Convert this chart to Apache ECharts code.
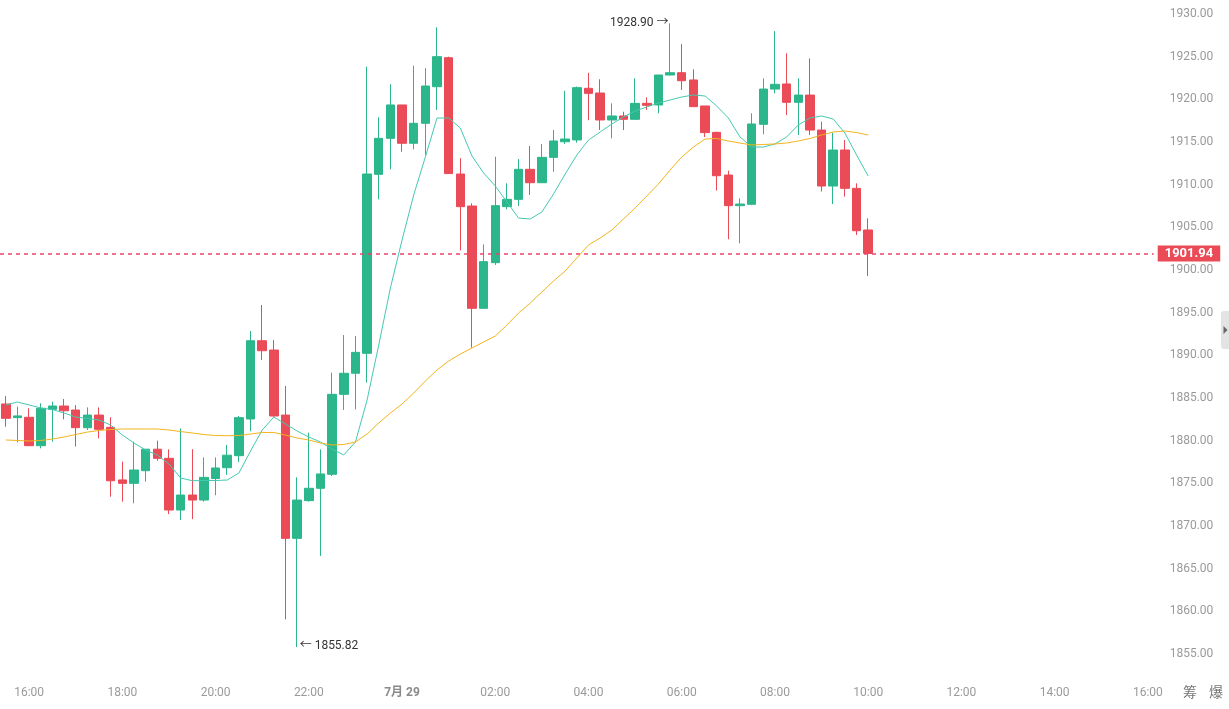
<!DOCTYPE html>
<html>
<head>
<meta charset="utf-8">
<script src="https://cdn.jsdelivr.net/npm/echarts@6/dist/echarts.min.js"></script>
<style>
html,body{margin:0;padding:0;background:#fff;}
#chart{width:1229px;height:709px;}
</style>
</head>
<body>
<div id="chart"></div>
<script>
// ---- data (15-minute candles, 15:30 -> 10:00) ----
const opens = [1884.30,1882.70,1882.74,1879.41,1883.67,1884.06,1883.59,1881.52,1883.00,1881.56,
1875.40,1875.00,1876.48,1879.00,1877.93,1871.87,1873.63,1873.04,1875.57,1876.83,
1878.24,1882.54,1891.71,1890.62,1883.00,1868.55,1872.97,1874.42,1876.06,1885.43,
1887.90,1890.24,1911.21,1915.43,1919.34,1914.85,1917.19,1921.48,1924.88,1911.25,
1907.50,1895.51,1900.86,1907.42,1908.28,1911.80,1910.23,1913.20,1915.03,1915.24,
1921.29,1920.74,1917.58,1918.05,1917.66,1919.53,1919.34,1922.85,1923.12,1922.27,
1919.22,1916.13,1911.13,1907.54,1907.70,1917.07,1921.20,1921.80,1919.65,1920.50,
1916.40,1909.84,1914.06,1909.57,1904.69];
const closes = [1882.62,1882.90,1879.41,1883.79,1884.06,1883.50,1881.52,1883.00,1881.33,1875.30,
1875.00,1876.56,1879.00,1877.93,1871.87,1873.63,1873.04,1875.70,1876.80,1878.30,
1882.70,1891.71,1890.54,1882.89,1868.55,1873.04,1874.42,1876.10,1885.43,1887.90,
1890.35,1911.25,1915.43,1919.34,1914.85,1917.19,1921.56,1925.00,1911.30,1907.42,
1895.51,1900.98,1907.54,1908.28,1911.80,1910.23,1913.20,1915.12,1915.35,1921.37,
1920.70,1917.58,1918.05,1917.66,1919.53,1919.30,1922.85,1923.12,1922.18,1919.14,
1916.10,1911.05,1907.54,1907.73,1917.11,1921.20,1921.76,1919.65,1920.50,1916.40,
1909.84,1914.06,1909.57,1904.60,1901.94];
const lows = [1881.63,1879.80,1879.40,1879.10,1879.88,1882.50,1879.30,1881.25,1880.27,1873.43,
1872.85,1872.66,1875.20,1877.65,1871.40,1870.70,1870.80,1872.85,1873.60,1876.00,
1877.50,1881.10,1889.45,1882.80,1859.06,1855.82,1872.85,1866.50,1875.86,1883.60,
1883.67,1886.80,1908.28,1911.80,1913.86,1914.14,1913.48,1918.75,1911.25,1902.30,
1890.90,1895.50,1900.59,1907.11,1907.50,1908.79,1910.23,1911.52,1914.77,1914.92,
1917.55,1916.40,1915.43,1916.40,1917.66,1918.75,1918.36,1922.82,1921.10,1919.14,
1915.58,1909.30,1903.60,1903.13,1907.60,1915.90,1920.70,1918.16,1915.82,1915.82,
1909.20,1907.73,1908.60,1904.10,1899.30];
const highs = [1885.23,1883.98,1883.79,1884.38,1884.57,1884.88,1884.18,1883.90,1883.90,1882.74,
1877.54,1879.88,1879.00,1880.00,1878.98,1881.43,1879.00,1878.04,1878.04,1879.50,
1882.90,1892.85,1895.90,1891.80,1886.40,1875.70,1880.94,1878.98,1887.97,1892.38,
1892.26,1923.82,1917.90,1921.76,1919.34,1923.94,1923.64,1928.44,1925.00,1913.10,
1907.82,1903.00,1913.28,1910.16,1913.00,1914.53,1914.77,1916.40,1921.00,1921.50,
1923.10,1922.35,1919.53,1918.55,1922.46,1920.24,1922.85,1928.90,1926.48,1923.52,
1919.22,1916.20,1911.64,1908.40,1918.36,1922.46,1928.00,1925.40,1922.46,1924.80,
1917.38,1916.10,1915.23,1910.16,1906.06];
// short moving-average line (teal)
const maFast = [1884.18,1884.53,1884.18,1883.83,1883.65,1883.24,1882.77,1882.60,1882.42,1881.83,
1880.66,1879.72,1878.90,1878.32,1877.26,1875.62,1875.31,1875.33,1875.33,1875.39,
1876.21,1878.79,1881.25,1882.77,1881.95,1881.13,1880.43,1879.84,1879.02,1878.32,
1879.84,1884.76,1891.21,1897.89,1903.51,1908.79,1913.24,1917.81,1917.81,1916.64,
1913.36,1911.37,1909.84,1907.97,1906.09,1905.98,1906.80,1908.91,1911.25,1913.48,
1915.23,1916.17,1917.11,1917.93,1918.63,1919.10,1919.57,1919.92,1920.27,1920.51,
1920.39,1919.22,1917.81,1915.59,1914.41,1914.41,1914.77,1915.59,1916.99,1917.81,
1918.05,1917.69,1916.05,1913.48,1911.01];
// long moving-average line (orange)
const maSlow = [1880.08,1880.02,1879.96,1880.02,1880.19,1880.43,1880.72,1881.01,1881.19,1881.31,
1881.37,1881.37,1881.37,1881.37,1881.25,1881.07,1880.90,1880.72,1880.60,1880.58,
1880.60,1880.78,1880.96,1880.96,1880.66,1880.31,1880.08,1879.72,1879.49,1879.55,
1879.84,1880.78,1882.07,1883.24,1884.30,1885.58,1886.99,1888.28,1889.33,1890.15,
1890.86,1891.56,1892.26,1893.55,1894.96,1896.13,1897.42,1898.71,1899.88,1901.41,
1902.93,1903.75,1904.69,1905.98,1907.26,1908.67,1910.08,1911.72,1913.24,1914.41,
1915.35,1915.41,1915.12,1914.88,1914.65,1914.71,1914.77,1914.88,1915.12,1915.41,
1915.82,1916.17,1916.29,1916.11,1915.82];
const xTickLabels = ['16:00','18:00','20:00','22:00','00:00','02:00','04:00','06:00','08:00','10:00','12:00','14:00'];
const yTicks = {min: 1855, max: 1930, step: 5};

// category slots every 15 minutes from 15:30 to 16:00 next day
const pad = n => (n < 10 ? '0' : '') + n;
const categories = [];
for (let m = 15 * 60 + 30; categories.length < 99; m += 15) {
  categories.push(pad(Math.floor(m / 60) % 24) + ':' + pad(m % 60));
}
const tickSet = new Set(xTickLabels.concat(['16:00']));

const UP = '#2bb68b', DOWN = '#eb4a57', PRICE_LINE = '#e8466c';
const kData = opens.map((o, i) => [o, closes[i], lows[i], highs[i]]);
let iMax = 0, iMin = 0;
highs.forEach((h, i) => { if (h > highs[iMax]) iMax = i; });
lows.forEach((l, i) => { if (l < lows[iMin]) iMin = i; });
const lastPrice = closes[closes.length - 1];

const chart = echarts.init(document.getElementById('chart'), null, {renderer: 'canvas'});
chart.setOption({
  animation: false,
  backgroundColor: '#ffffff',
  textStyle: {fontFamily: 'Roboto, "Noto Sans CJK SC", sans-serif'},
  grid: {left: -1.3, right: 75.3, top: 14, bottom: 55},
  xAxis: {
    type: 'category',
    data: categories,
    boundaryGap: true,
    axisLine: {show: false},
    axisTick: {show: false},
    splitLine: {show: false},
    axisLabel: {
      margin: 33,
      color: '#9a9a9a',
      fontSize: 12,
      interval: (idx, val) => tickSet.has(val),
      formatter: v => v === '00:00' ? '{d|7月 29}' : v,
      rich: {d: {fontWeight: 'bold', color: '#8a8a8a', fontSize: 12}}
    }
  },
  yAxis: {
    type: 'value',
    position: 'right',
    min: yTicks.min,
    max: yTicks.max,
    interval: yTicks.step,
    scale: true,
    axisLine: {show: false},
    axisTick: {show: false},
    splitLine: {show: false},
    axisLabel: {
      margin: 16,
      color: '#9a9a9a',
      fontSize: 12,
      formatter: v => v.toFixed(2)
    }
  },
  series: [
    {
      type: 'candlestick',
      data: kData,
      barWidth: 9,
      itemStyle: {color: UP, color0: DOWN, borderColor: UP, borderColor0: DOWN, borderColorDoji: UP, borderWidth: 1},
      markPoint: {
        symbol: 'circle',
        symbolSize: 1,
        itemStyle: {color: 'rgba(0,0,0,0)'},
        data: [
          {coord: [iMax, highs[iMax]], value: highs[iMax],
           label: {show: true, position: 'left', distance: 1, offset: [0, 0], color: '#333', fontSize: 12,
                   formatter: p => p.value.toFixed(2) + ' →'}},
          {coord: [iMin, lows[iMin]], value: lows[iMin],
           label: {show: true, position: 'right', distance: 2, offset: [0, -1], color: '#333', fontSize: 12,
                   formatter: p => '← ' + p.value.toFixed(2)}}
        ]
      }
    },
    {
      // teal line; also carries the price tag label of the last price
      type: 'line', data: maFast, symbol: 'none', silent: true,
      lineStyle: {color: '#45c9b1', width: 1}, z: 3,
      markLine: {
        symbol: ['none', 'none'],
        silent: true,
        lineStyle: {color: 'rgba(0,0,0,0)', type: [4, 4], width: 1},
        label: {
          show: true, position: 'end', distance: 4,
          formatter: () => lastPrice.toFixed(2),
          backgroundColor: DOWN, color: '#fff', fontWeight: 'bold', fontSize: 13,
          padding: [2, 7, 1, 7]
        },
        data: [{yAxis: lastPrice}]
      }
    },
    {
      // orange line; also carries the dashed last-price line
      type: 'line', data: maSlow, symbol: 'none',
      lineStyle: {color: '#f2b51e', width: 1}, z: 4,
      markLine: {
        symbol: ['none', 'none'],
        lineStyle: {color: PRICE_LINE, type: [4, 4], width: 1.6},
        label: {show: false},
        data: [{yAxis: lastPrice}]
      }
    }
  ],
  graphic: [
    {type: 'text', left: 1183, top: 685, style: {text: '筹', fill: '#777', font: '14px "Noto Sans CJK SC"'}},
    {type: 'text', left: 1209, top: 685, style: {text: '爆', fill: '#777', font: '14px "Noto Sans CJK SC"'}},
    {type: 'rect', shape: {x: 1221, y: 311, width: 8, height: 38, r: [3, 0, 0, 3]}, style: {fill: '#e3e3e3'}},
    {type: 'polygon', shape: {points: [[1223.5, 326], [1227.5, 330], [1223.5, 334]]}, style: {fill: '#666'}}
  ]
});
</script>
</body>
</html>
